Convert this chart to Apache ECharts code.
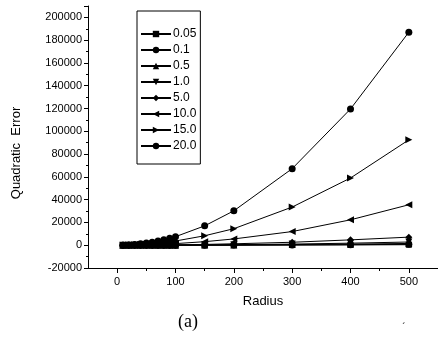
<!DOCTYPE html>
<html>
<head>
<meta charset="utf-8">
<script src="https://cdn.jsdelivr.net/npm/echarts@6/dist/echarts.min.js"></script>
<style>html,body{margin:0;padding:0;background:#fff;}#c{width:438px;height:338px;}</style>
</head>
<body>
<div id="c"></div>
<script>
const radius = [10, 20, 30, 40, 50, 60, 70, 80, 90, 100, 150, 200, 300, 400, 500];
const seriesNames = ['0.05', '0.1', '0.5', '1.0', '5.0', '10.0', '15.0', '20.0'];
const s005 = [0, 1, 2, 3, 5, 7, 9, 12, 15, 18, 40, 70, 160, 280, 450];
const s01 = [1, 2, 3, 5, 8, 11, 15, 20, 25, 30, 70, 120, 270, 480, 750];
const s05 = [1, 3, 6, 10, 16, 23, 31, 41, 52, 64, 140, 250, 560, 1000, 1550];
const s10 = [2, 5, 10, 18, 28, 40, 55, 72, 90, 110, 250, 450, 1000, 1800, 2800];
const s50 = [3, 12, 27, 48, 75, 108, 147, 192, 243, 300, 700, 1250, 2600, 4700, 7100];
const s100 = [14, 56, 126, 224, 350, 504, 686, 896, 1134, 1400, 3100, 5500, 12000, 22300, 35500];
const s150 = [37, 148, 333, 592, 925, 1332, 1813, 2368, 2997, 3700, 8300, 14500, 33500, 59000, 92500];
const s200 = [75, 300, 675, 1200, 1875, 2700, 3675, 4800, 6075, 7500, 17000, 30200, 67200, 119600, 187000];
const seriesValues = [s005, s01, s05, s10, s50, s100, s150, s200];
const symbols = ['rect', 'circle', 'triangle', 'triangle', 'diamond', 'triangle', 'triangle', 'circle'];
const rotations = [0, 0, 0, 180, 0, 90, -90, 0];
const xMajorTicks = [0, 100, 200, 300, 400, 500];
const xMinorTicks = [50, 150, 250, 350, 450, 550];

const FONT = '"Liberation Sans", Arial, sans-serif';
const chart = echarts.init(document.getElementById('c'), null, {renderer: 'canvas'});

const series = seriesNames.map((n, i) => ({
  name: n,
  type: 'line',
  xAxisIndex: 0,
  data: radius.map((r, j) => [r, seriesValues[i][j]]),
  symbol: symbols[i],
  symbolRotate: rotations[i],
  symbolSize: symbols[i] === 'rect' ? 6 : 7,
  showSymbol: true,
  lineStyle: {color: '#000', width: 1},
  itemStyle: {color: '#000'},
  animation: false
}));

chart.setOption({
  animation: false,
  backgroundColor: '#fff',
  grid: {left: 88, right: 0, top: 6, bottom: 70, containLabel: false},
  legend: {
    orient: 'vertical',
    left: 137, top: 11,
    data: seriesNames,
    itemWidth: 30, itemHeight: 8, itemGap: 4,
    padding: [17, 4, 12, 3],
    borderColor: '#000', borderWidth: 1,
    textStyle: {fontFamily: FONT, fontSize: 12, color: '#000', padding: [0, 0, 0, -3], lineHeight: 12}
  },
  xAxis: [{
    type: 'value', min: -50, max: 550,
    axisLine: {show: true, onZero: false, lineStyle: {color: '#000', width: 1}},
    axisTick: {show: true, customValues: xMajorTicks, length: 5, inside: false, lineStyle: {color: '#000'}},
    axisLabel: {customValues: xMajorTicks, fontFamily: FONT, fontSize: 11, color: '#000', margin: 8},
    splitLine: {show: false},
    name: 'Radius', nameLocation: 'middle', nameGap: 27,
    nameTextStyle: {fontFamily: FONT, fontSize: 13, color: '#000'}
  }, {
    type: 'value', min: -50, max: 550, position: 'bottom',
    axisLine: {show: false, onZero: false},
    axisTick: {show: true, customValues: xMinorTicks, length: 3, lineStyle: {color: '#000'}},
    axisLabel: {show: false},
    splitLine: {show: false}
  }],
  yAxis: {
    type: 'value', min: -20000, max: 210000, interval: 20000,
    axisLine: {show: true, onZero: false, lineStyle: {color: '#000', width: 1}},
    axisTick: {show: true, length: 4, lineStyle: {color: '#000'}},
    minorTick: {show: true, splitNumber: 2, length: 2, lineStyle: {color: '#000'}},
    axisLabel: {fontFamily: FONT, fontSize: 11, color: '#000', margin: 6, showMaxLabel: false,
                formatter: v => String(v)},
    splitLine: {show: false}
  },
  graphic: [
    {type: 'text', x: 16, y: 153, rotation: Math.PI / 2,
     style: {text: 'Quadratic  Error', font: '13px ' + FONT, fill: '#000', align: 'center', verticalAlign: 'middle'}},
    {type: 'text', x: 188, y: 322,
     style: {text: '(a)', font: '18px "Liberation Serif", "Times New Roman", serif', fill: '#000', align: 'center', verticalAlign: 'middle'}},
    {type: 'text', x: 404, y: 328,
     style: {text: '\u00b4', font: '10px ' + FONT, fill: '#000', align: 'center', verticalAlign: 'middle'}}
  ],
  series: series
});
</script>
</body>
</html>
